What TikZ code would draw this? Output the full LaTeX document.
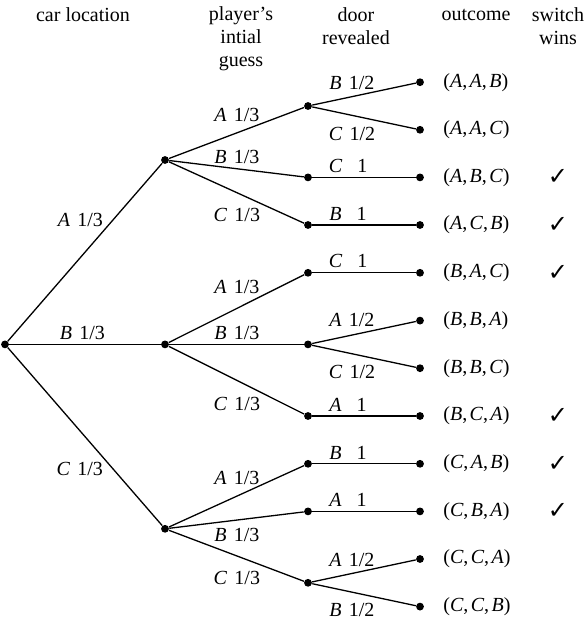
\documentclass[tikz,border=0pt]{standalone}
\usepackage{fontspec}
\setmainfont{Liberation Serif}
\newfontfamily\symfont{DejaVu Sans}
\usepackage{tikz}
\usetikzlibrary{positioning}
\newcommand{\prob}[2]{\textit{#1}\hspace{4pt}\makebox[12pt]{#2}}
\newcommand{\outc}[3]{(\textit{#1},\hspace{1.2pt}\textit{#2},\hspace{1.2pt}\textit{#3})}

\begin{document}
\begin{tikzpicture}[
    on grid,
    every node/.style={font=\fontsize{10}{12}\selectfont},
    dot/.style={circle, fill, inner sep=0pt, minimum size=3.9pt},
    lbl/.style={inner sep=2pt},
    head/.style={align=center, font=\fontsize{10}{11.5}\selectfont},
    result/.style={anchor=west},
    win/.style={font=\symfont\fontsize{12}{12}\selectfont},
    branch/.style={line width=0.65pt}
]
\useasboundingbox (0,0) rectangle (293.5pt,-313.5pt);

\node[head] (carhead) at (41.5pt,-7.5pt) {car location};
\node[head] (guesshead) at (120.5pt,-19.25pt) {player's\\intial\\guess};
\node[head] (doorhead) at (178pt,-13.25pt) {door\\revealed};
\node[head] (outhead) at (238pt,-7.5pt) {outcome};
\node[head] (winhead) at (279pt,-13.25pt) {switch\\wins};

\node[dot] (start) at (2.5pt,-172.2pt) {};
\node[dot, above right=92.2pt and 80pt of start] (carA) {};
\node[dot, right=80pt of start] (carB) {};
\node[dot, below right=92.2pt and 80pt of start] (carC) {};

\node[dot, above right=27pt and 71.5pt of carA] (guessAA) {};
\node[dot, below right=8.7pt and 71.5pt of carA] (guessAB) {};
\node[dot, below right=32.5pt and 71.5pt of carA] (guessAC) {};
\node[dot, above right=35.8pt and 71.5pt of carB] (guessBA) {};
\node[dot, right=71.5pt of carB] (guessBB) {};
\node[dot, below right=35.8pt and 71.5pt of carB] (guessBC) {};
\node[dot, above right=32.5pt and 71.5pt of carC] (guessCA) {};
\node[dot, above right=8.7pt and 71.5pt of carC] (guessCB) {};
\node[dot, below right=27pt and 71.5pt of carC] (guessCC) {};

\node[dot, above right=11.9pt and 56pt of guessAA] (doorAAB) {};
\node[dot, below right=11.9pt and 56pt of guessAA] (doorAAC) {};
\node[dot, right=56pt of guessAB] (doorABC) {};
\node[dot, right=56pt of guessAC] (doorACB) {};
\node[dot, right=56pt of guessBA] (doorBAC) {};
\node[dot, above right=11.9pt and 56pt of guessBB] (doorBBA) {};
\node[dot, below right=11.9pt and 56pt of guessBB] (doorBBC) {};
\node[dot, right=56pt of guessBC] (doorBCA) {};
\node[dot, right=56pt of guessCA] (doorCAB) {};
\node[dot, right=56pt of guessCB] (doorCBA) {};
\node[dot, above right=11.9pt and 56pt of guessCC] (doorCCA) {};
\node[dot, below right=11.9pt and 56pt of guessCC] (doorCCB) {};

\node[right=8.2pt of doorAAB, result] (outAAB) {\outc{A}{A}{B}};
\node[right=8.2pt of doorAAC, result] (outAAC) {\outc{A}{A}{C}};
\node[right=8.2pt of doorABC, result] (outABC) {\outc{A}{B}{C}};
\node[right=8.2pt of doorACB, result] (outACB) {\outc{A}{C}{B}};
\node[right=8.2pt of doorBAC, result] (outBAC) {\outc{B}{A}{C}};
\node[right=8.2pt of doorBBA, result] (outBBA) {\outc{B}{B}{A}};
\node[right=8.2pt of doorBBC, result] (outBBC) {\outc{B}{B}{C}};
\node[right=8.2pt of doorBCA, result] (outBCA) {\outc{B}{C}{A}};
\node[right=8.2pt of doorCAB, result] (outCAB) {\outc{C}{A}{B}};
\node[right=8.2pt of doorCBA, result] (outCBA) {\outc{C}{B}{A}};
\node[right=8.2pt of doorCCA, result] (outCCA) {\outc{C}{C}{A}};
\node[right=8.2pt of doorCCB, result] (outCCB) {\outc{C}{C}{B}};

\node[win, right=69pt of doorABC] (winABC) {✓};
\node[win, right=69pt of doorACB] (winACB) {✓};
\node[win, right=69pt of doorBAC] (winBAC) {✓};
\node[win, right=69pt of doorBCA] (winBCA) {✓};
\node[win, right=69pt of doorCAB] (winCAB) {✓};
\node[win, right=69pt of doorCBA] (winCBA) {✓};

\draw[branch] (start) -- node[lbl, pos=.68, left=3pt] {\prob{A}{1/3}} (carA);
\draw[branch] (start) -- node[lbl, pos=.48, above] {\prob{B}{1/3}} (carB);
\draw[branch] (start) -- node[lbl, pos=.68, left=3pt] {\prob{C}{1/3}} (carC);

\draw[branch] (carA) -- node[lbl, above=3.5pt] {\prob{A}{1/3}} (guessAA);
\draw[branch] (carA) -- node[lbl, above] {\prob{B}{1/3}} (guessAB);
\draw[branch] (carA) -- node[lbl, below=5.75pt] {\prob{C}{1/3}} (guessAC);
\draw[branch] (carB) -- node[lbl, above=5.3pt] {\prob{A}{1/3}} (guessBA);
\draw[branch] (carB) -- node[lbl, above] {\prob{B}{1/3}} (guessBB);
\draw[branch] (carB) -- node[lbl, below=6pt] {\prob{C}{1/3}} (guessBC);
\draw[branch] (carC) -- node[lbl, above=3.5pt] {\prob{A}{1/3}} (guessCA);
\draw[branch] (carC) -- node[lbl, below=2pt] {\prob{B}{1/3}} (guessCB);
\draw[branch] (carC) -- node[lbl, below=5.5pt] {\prob{C}{1/3}} (guessCC);

\draw[branch] (guessAA) -- node[lbl, pos=.38, above=1pt] {\prob{B}{1/2}} (doorAAB);
\draw[branch] (guessAA) -- node[lbl, pos=.38, below=3.5pt] {\prob{C}{1/2}} (doorAAC);
\draw[branch] (guessAB) -- node[lbl, pos=.38, above] {\prob{C}{1}} (doorABC);
\draw[branch] (guessAC) -- node[lbl, pos=.38, above] {\prob{B}{1}} (doorACB);
\draw[branch] (guessBA) -- node[lbl, pos=.38, above] {\prob{C}{1}} (doorBAC);
\draw[branch] (guessBB) -- node[lbl, pos=.38, above=2pt] {\prob{A}{1/2}} (doorBBA);
\draw[branch] (guessBB) -- node[lbl, pos=.38, below=3.5pt] {\prob{C}{1/2}} (doorBBC);
\draw[branch] (guessBC) -- node[lbl, pos=.38, above] {\prob{A}{1}} (doorBCA);
\draw[branch] (guessCA) -- node[lbl, pos=.38, above] {\prob{B}{1}} (doorCAB);
\draw[branch] (guessCB) -- node[lbl, pos=.38, above] {\prob{A}{1}} (doorCBA);
\draw[branch] (guessCC) -- node[lbl, pos=.38, above=1pt] {\prob{A}{1/2}} (doorCCA);
\draw[branch] (guessCC) -- node[lbl, pos=.38, below=3.5pt] {\prob{B}{1/2}} (doorCCB);
\end{tikzpicture}
\end{document}
